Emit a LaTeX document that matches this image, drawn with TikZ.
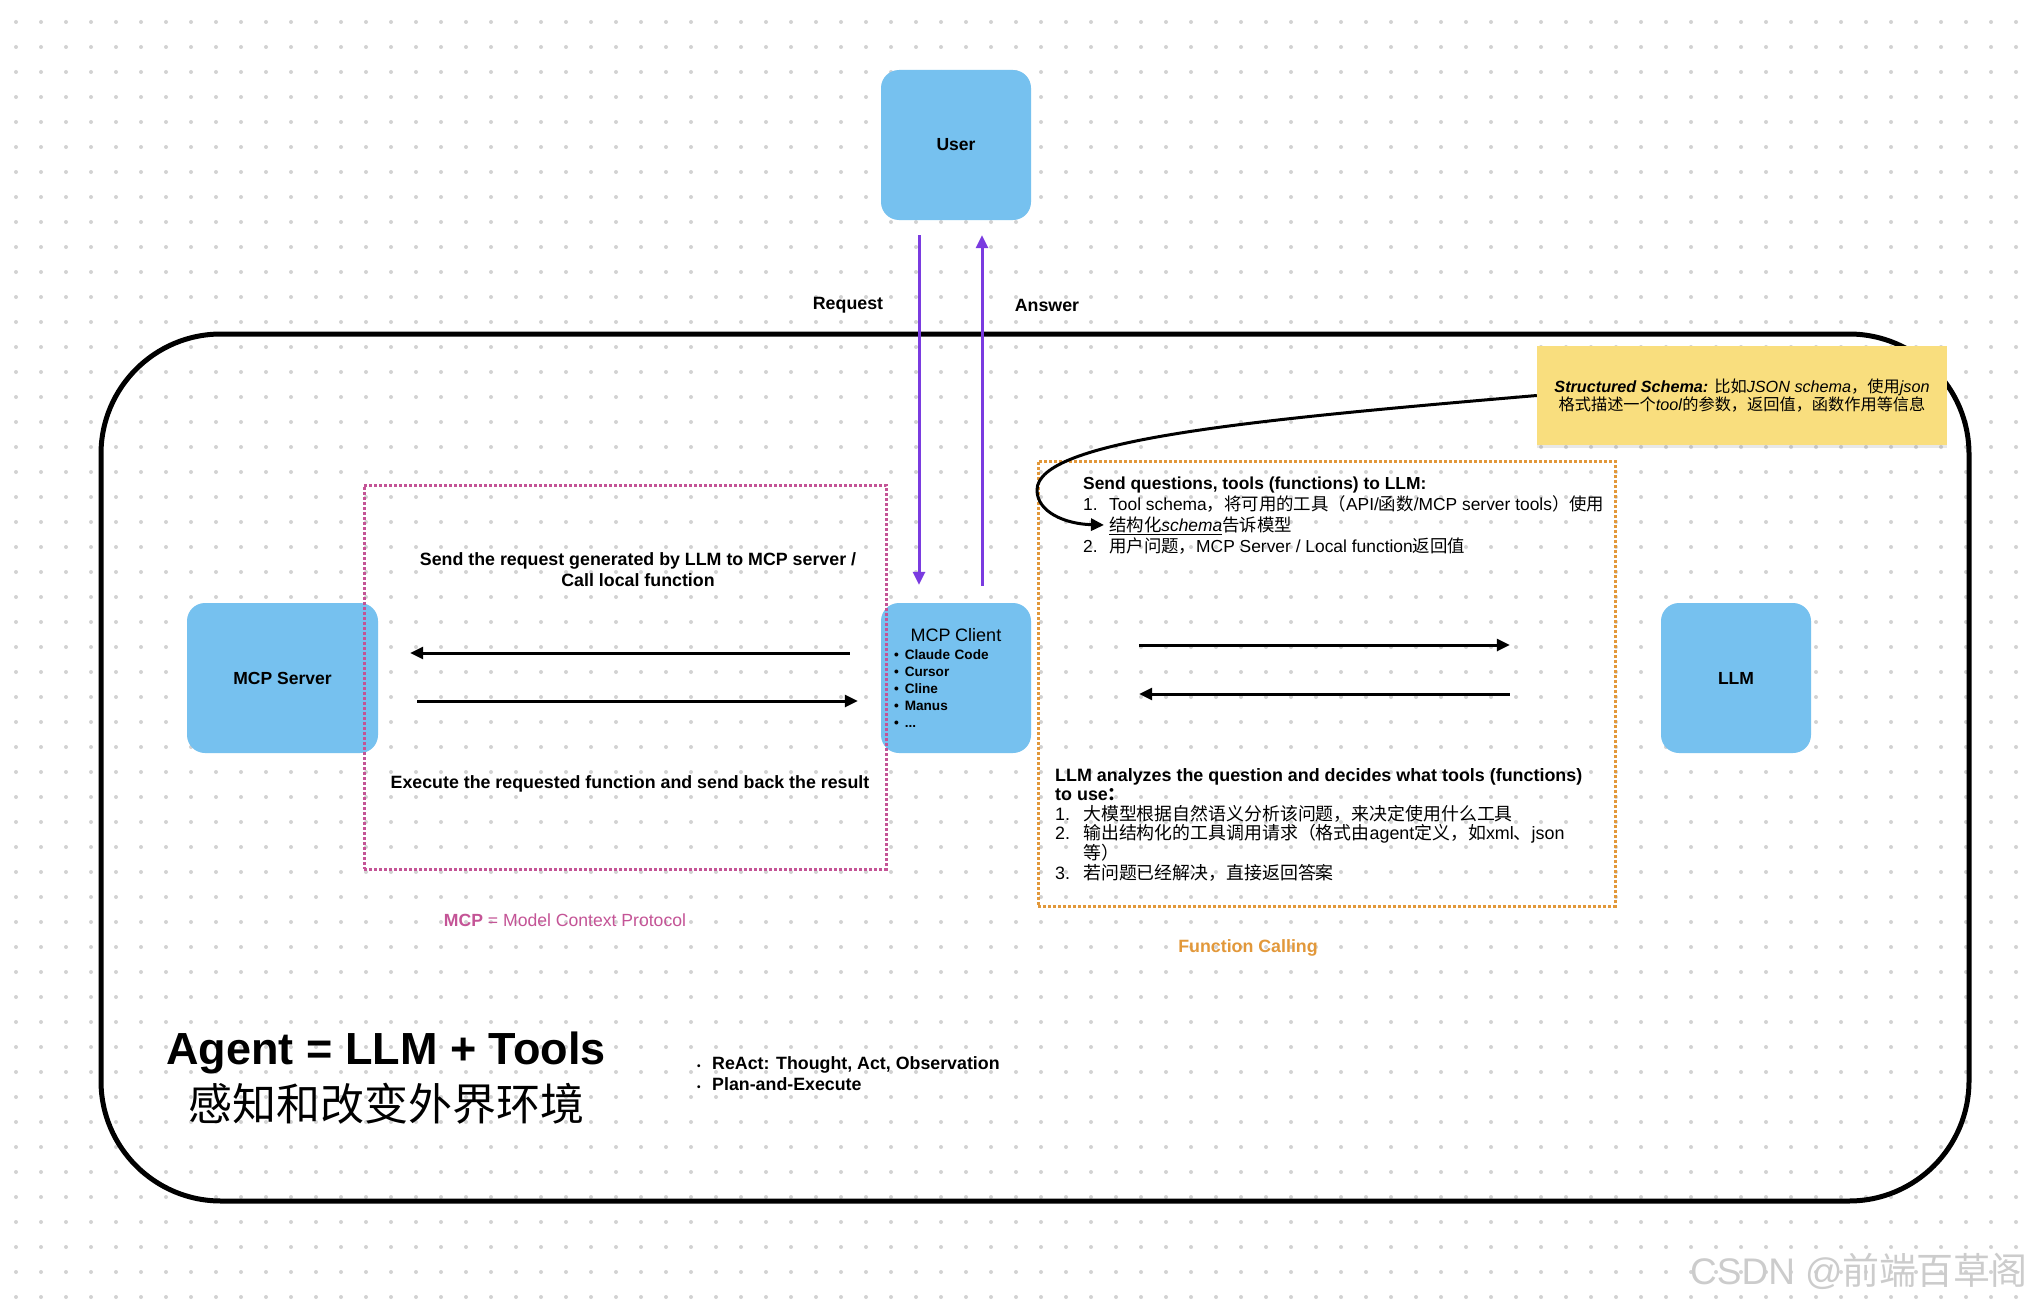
\documentclass[tikz,border=0pt]{standalone}
\usepackage{fontspec}
\setmainfont{Liberation Sans}
\newfontfamily\cjk{Noto Sans CJK SC}
\usepackage{tikz}
\usetikzlibrary{positioning,arrows.meta,shadows}

\definecolor{boxblue}{RGB}{118,193,239}
\definecolor{reqpurple}{RGB}{122,59,224}
\definecolor{mcppink}{RGB}{196,84,150}
\definecolor{fcorange}{RGB}{226,152,58}
\definecolor{noteyellow}{RGB}{249,222,126}
\definecolor{griddot}{RGB}{210,210,210}

\newcommand{\zh}[1]{{\cjk #1}}

\begin{document}
\begin{tikzpicture}[
  x=1pt, y=-1pt,
  font=\fontsize{17.8}{21}\selectfont,
  box/.style={fill=boxblue, rounded corners=18pt, minimum width=150pt, minimum height=150pt, inner sep=0pt, align=center, font=\fontsize{17.5}{21}\selectfont\bfseries},
  arr/.style={-{Triangle[length=13pt, width=12pt]}, line width=3pt},
  callarr/.style={arr, draw=reqpurple, fill=reqpurple},
  zone/.style={line width=3pt, dash pattern=on 3pt off 2pt, inner sep=0pt},
  lbl/.style={font=\fontsize{17.8}{21}\selectfont\bfseries, inner sep=0pt},
  txt/.style={inner sep=0pt, align=left, anchor=north west}]

% dotted canvas
\fill[white] (0,0) rectangle (2038,1306);
\useasboundingbox (0,0) rectangle (2038,1306);
\foreach \i in {0,...,80}
  \foreach \j in {0,...,51}
    \fill[griddot] (16+25*\i, 22+25*\j) circle (2pt);

\node[draw, line width=5pt, rounded corners=120pt, minimum width=1868pt, minimum height=867pt] (frame) at (1035,767.5) {};

\node[box] (user) at (956,145) {User};
\node[box, minimum width=191pt] (server) at (282.5,678) {MCP Server};
\node[box, align=left, text width=136pt, font=\fontsize{13.6}{17}\selectfont\bfseries] (client) at (956,678) {%
  \makebox[136pt][c]{\fontsize{18}{21}\selectfont\mdseries MCP Client}\\[1pt]
  \hspace*{6pt}\textbullet\hspace{6pt}Claude Code\\
  \hspace*{6pt}\textbullet\hspace{6pt}Cursor\\
  \hspace*{6pt}\textbullet\hspace{6pt}Cline\\
  \hspace*{6pt}\textbullet\hspace{6pt}Manus\\
  \hspace*{6pt}\textbullet\hspace{6pt}...};
\node[box] (llm) at (1736,678) {LLM};

% zones
\node[zone, draw=mcppink, minimum width=522pt, minimum height=384pt] (mcpzone) at (625,677) {};
\node[zone, draw=fcorange, minimum width=577pt, minimum height=445pt] (fczone) at (1326.5,683.5) {};

% user <-> client
\draw[callarr] ([xshift=-37pt, yshift=-15pt]user.south) -- ([xshift=-37pt, yshift=18pt]client.north);
\draw[callarr] ([xshift=26pt, yshift=17pt]client.north) -- ([xshift=26pt, yshift=-15pt]user.south);
\node[lbl] (request) at (848,305) {Request};
\node[lbl] (answer) at (1047,305) {Answer};

% client <-> server
\draw[arr] ([xshift=-31pt, yshift=25pt]client.west) -- ([xshift=32pt, yshift=25pt]server.east);
\draw[arr] ([xshift=39pt, yshift=-23pt]server.east) -- ([xshift=-23pt, yshift=-23pt]client.west);
\node[lbl, align=center] (mcpsend) at (638,570) {Send the request generated by LLM to MCP server /\\Call local function};
\node[lbl] (mcpexec) at (630,784) {Execute the requested function and send back the result};

% client <-> llm
\draw[arr] ([xshift=108pt, yshift=33pt]client.east) -- ([xshift=-151pt, yshift=33pt]llm.west);
\draw[arr] ([xshift=-151pt, yshift=-16pt]llm.west) -- ([xshift=108pt, yshift=-16pt]client.east);
\node[txt, font=\fontsize{17.4}{21}\selectfont] (fcsend) at (1083,477) {%
  \textbf{Send questions, tools (functions) to LLM:}\\
  \makebox[26pt][l]{1.}Tool schema\zh{，将可用的工具（}API/\zh{函数}/MCP server tools\zh{）使用}\\
  \hspace*{26pt}\underline{\zh{结构化}\textit{schema}}\zh{告诉模型}\\
  \makebox[26pt][l]{2.}\zh{用户问题，}MCP Server / Local function\zh{返回值}};
\node[txt, font=\fontsize{17.9}{19.6}\selectfont] (fcdecide) at (1055,768) {%
  \textbf{LLM analyzes the question and decides what tools (functions)}\\
  \textbf{to use\zh{：}}\\
  \makebox[28pt][l]{1.}\zh{大模型根据自然语义分析该问题，来决定使用什么工具}\\
  \makebox[28pt][l]{2.}\zh{输出结构化的工具调用请求（格式由}agent\zh{定义，如}xml\zh{、}json\\
  \hspace*{28pt}\zh{等）}\\
  \makebox[28pt][l]{3.}\zh{若问题已经解决，直接返回答案}};

% schema note
\node[fill=noteyellow, minimum width=410pt, minimum height=99pt, align=center, font=\fontsize{16.2}{18.5}\selectfont,
  drop shadow={opacity=0.18, shadow xshift=0pt, shadow yshift=-3pt}] (note) at (1742,395.5) {%
  {\bfseries\itshape Structured Schema:} \zh{比如}\textit{JSON schema}\zh{，使用}\textit{json}\\
  \zh{格式描述一个}\textit{tool}\zh{的参数，返回值，函数作用等信息}};
\coordinate (schematip) at (1104,525);
\draw[arr] (note.west) .. controls (1250,420) and (1037,440) .. (1037,490) .. controls (1037,512) and (1065,524) .. (schematip);

% captions
\node[inner sep=0pt, text=mcppink, font=\fontsize{17.6}{20}\selectfont] (mcpname) at (565,920) {\textbf{MCP} = Model Context Protocol};
\node[lbl, text=fcorange] (fcname) at (1248,948) {Function Calling};

\node[inner sep=0pt, font=\fontsize{45}{50}\selectfont\bfseries] (title) at (386,1053) {Agent = LLM + Tools};
\node[inner sep=0pt, font=\fontsize{44}{50}\selectfont\cjk] (subtitle) at (386,1104) {感知和改变外界环境};
\node[txt, font=\fontsize{17.8}{21}\selectfont\bfseries] (patterns) at (697,1056) {%
  \makebox[15pt][l]{\fontsize{10}{10}\selectfont\textbullet}ReAct: Thought, Act, Observation\\
  \makebox[15pt][l]{\fontsize{10}{10}\selectfont\textbullet}Plan-and-Execute};

\node[inner sep=0pt, text=black!20, font=\fontsize{37}{40}\selectfont] (watermark) at (1859,1271) {CSDN @\zh{前端百草阁}};
\end{tikzpicture}
\end{document}
